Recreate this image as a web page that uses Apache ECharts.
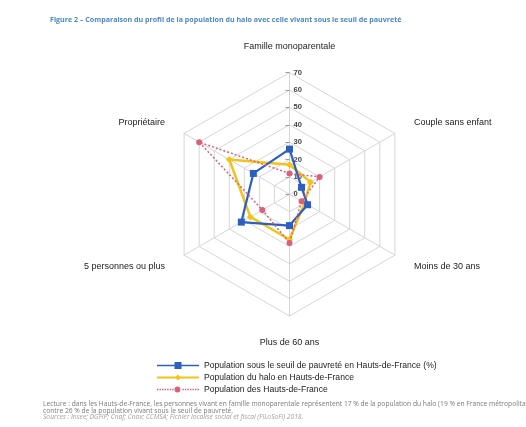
<!DOCTYPE html>
<html>
<head>
<meta charset="utf-8">
<script src="https://cdn.jsdelivr.net/npm/echarts@6/dist/echarts.min.js"></script>
<style>
html,body{margin:0;padding:0;background:#fff;}
#c{width:526px;height:427px;}
</style>
</head>
<body>
<div id="c"></div>
<script>
// Categories in clockwise order starting from the top
var categories = ['Famille monoparentale', 'Couple sans enfant', 'Moins de 30 ans', 'Plus de 60 ans', '5 personnes ou plus', 'Propriétaire'];
var seriesNames = ['Population sous le seuil de pauvreté en Hauts-de-France (%)', 'Population du halo en Hauts-de-France', 'Population des Hauts-de-France'];
var pauvrete = [26, 8, 12, 18, 32, 24];
var halo = [17, 14, 10, 26, 26, 40];
var hdf = [12, 20, 8, 28, 18, 60];
var tickValues = [0, 10, 20, 30, 40, 50, 60, 70];

// ECharts radar places indicators counterclockwise; reorder to keep the clockwise layout
var order = [0, 5, 4, 3, 2, 1];
function reorder(arr) { return order.map(function (i) { return arr[i]; }); }

var chart = echarts.init(document.getElementById('c'), null, {renderer: 'canvas'});
var cx = 289.5, cy = 194.3, R = 121.7;
var sans = 'Liberation Sans, Arial, sans-serif';

// legend icons (line + marker), bounding box 42 x 8
var dots = '';
for (var x = 0; x < 42; x += 2.6) { if (x < 17.5 || x > 24.5) dots += ' M' + x + ',3.3h1.5v1.4h-1.5z'; }
var icons = [
  'path://M0,0h0.01v0.01h-0.01z M41.99,7.99h0.01v0.01h-0.01z M0,3.2h42v1.6H0z M17.5,0.5h7v7h-7z',
  'path://M0,0h0.01v0.01h-0.01z M41.99,7.99h0.01v0.01h-0.01z M0,3.1h42v1.8H0z M21,1 L24,4 L21,7 L18,4z',
  'path://M0,0h0.01v0.01h-0.01z M41.99,7.99h0.01v0.01h-0.01z' + dots + ' M18,4a3,3 0 1,0 6,0a3,3 0 1,0 -6,0z'
];

var option = {
  animation: false,
  backgroundColor: '#fff',
  title: [
    {text: 'Figure 2 – Comparaison du profil de la population du halo avec celle vivant sous le seuil de pauvreté',
     left: 45, top: 11, textStyle: {fontFamily: 'Open Sans', fontSize: 7.1, fontWeight: 'bold', color: '#4d88c6'}},
    {text: 'Lecture : dans les Hauts-de-France, les personnes vivant en famille monoparentale représentent 17 % de la population du halo (19 % en France métropolitaine)',
     left: 38, top: 396, textStyle: {fontFamily: 'Open Sans', fontSize: 6.7, fontWeight: 'normal', color: '#7a7a7a'}},
    {text: 'contre 26 % de la population vivant sous le seuil de pauvreté.',
     left: 38, top: 402.3, textStyle: {fontFamily: 'Open Sans', fontSize: 6.7, fontWeight: 'normal', color: '#7a7a7a'}},
    {text: 'Sources : Insee; DGFiP; Cnaf; Cnav; CCMSA; Fichier localisé social et fiscal (FiLoSoFi) 2018.',
     left: 38, top: 408.6, textStyle: {fontFamily: 'Open Sans', fontSize: 6.7, fontWeight: 'normal', fontStyle: 'italic', color: '#a0a0a0'}}
  ],
  legend: {
    orient: 'vertical', left: 152, top: 356, itemGap: 3, itemWidth: 42, itemHeight: 8,
    textStyle: {fontFamily: sans, fontSize: 8.6, color: '#222'},
    data: seriesNames.map(function (n, i) { return {name: n, icon: icons[i]}; })
  },
  radar: {
    center: [cx, cy], radius: R, shape: 'polygon', splitNumber: 7,
    startAngle: 90,
    indicator: reorder(categories).map(function (n) { return {name: n, min: 0, max: 70}; }),
    axisName: {color: '#222', fontFamily: sans, fontSize: 9},
    nameGap: 22,
    splitLine: {lineStyle: {color: '#d6d6d6', width: 1}},
    splitArea: {show: false},
    axisLine: {lineStyle: {color: '#d6d6d6', width: 1}},
    axisTick: {show: false},
    axisLabel: {show: false}
  },
  polar: {center: [cx, cy], radius: R},
  angleAxis: {show: false, startAngle: 90, min: 0, max: 360},
  radiusAxis: {
    min: tickValues[0], max: tickValues[tickValues.length - 1], interval: 10,
    axisLine: {show: true, lineStyle: {color: '#c8c8c8'}},
    axisTick: {show: true, length: 4, lineStyle: {color: '#999'}},
    splitLine: {show: false},
    axisLabel: {show: true, fontFamily: sans, fontSize: 7.6, fontWeight: 'bold', color: '#444', align: 'left', margin: -4}
  },
  series: [
    {name: seriesNames[0], type: 'radar', z: 4,
     symbol: 'rect', symbolSize: 7,
     lineStyle: {color: '#2d5fc2', width: 2.2},
     itemStyle: {color: '#2d5fc2'},
     data: [{value: reorder(pauvrete), name: seriesNames[0]}]},
    {name: seriesNames[1], type: 'radar', z: 3,
     symbol: 'diamond', symbolSize: 7,
     lineStyle: {color: '#f2c318', width: 2.5},
     itemStyle: {color: '#f2c318'},
     data: [{value: reorder(halo), name: seriesNames[1]}]},
    {name: seriesNames[2], type: 'radar', z: 5,
     symbol: 'circle', symbolSize: 6,
     lineStyle: {color: '#d9607f', width: 1.5, type: [2, 2]},
     itemStyle: {color: '#d9607f'},
     data: [{value: reorder(hdf), name: seriesNames[2]}]}
  ]
};
chart.setOption(option);
</script>
</body>
</html>
